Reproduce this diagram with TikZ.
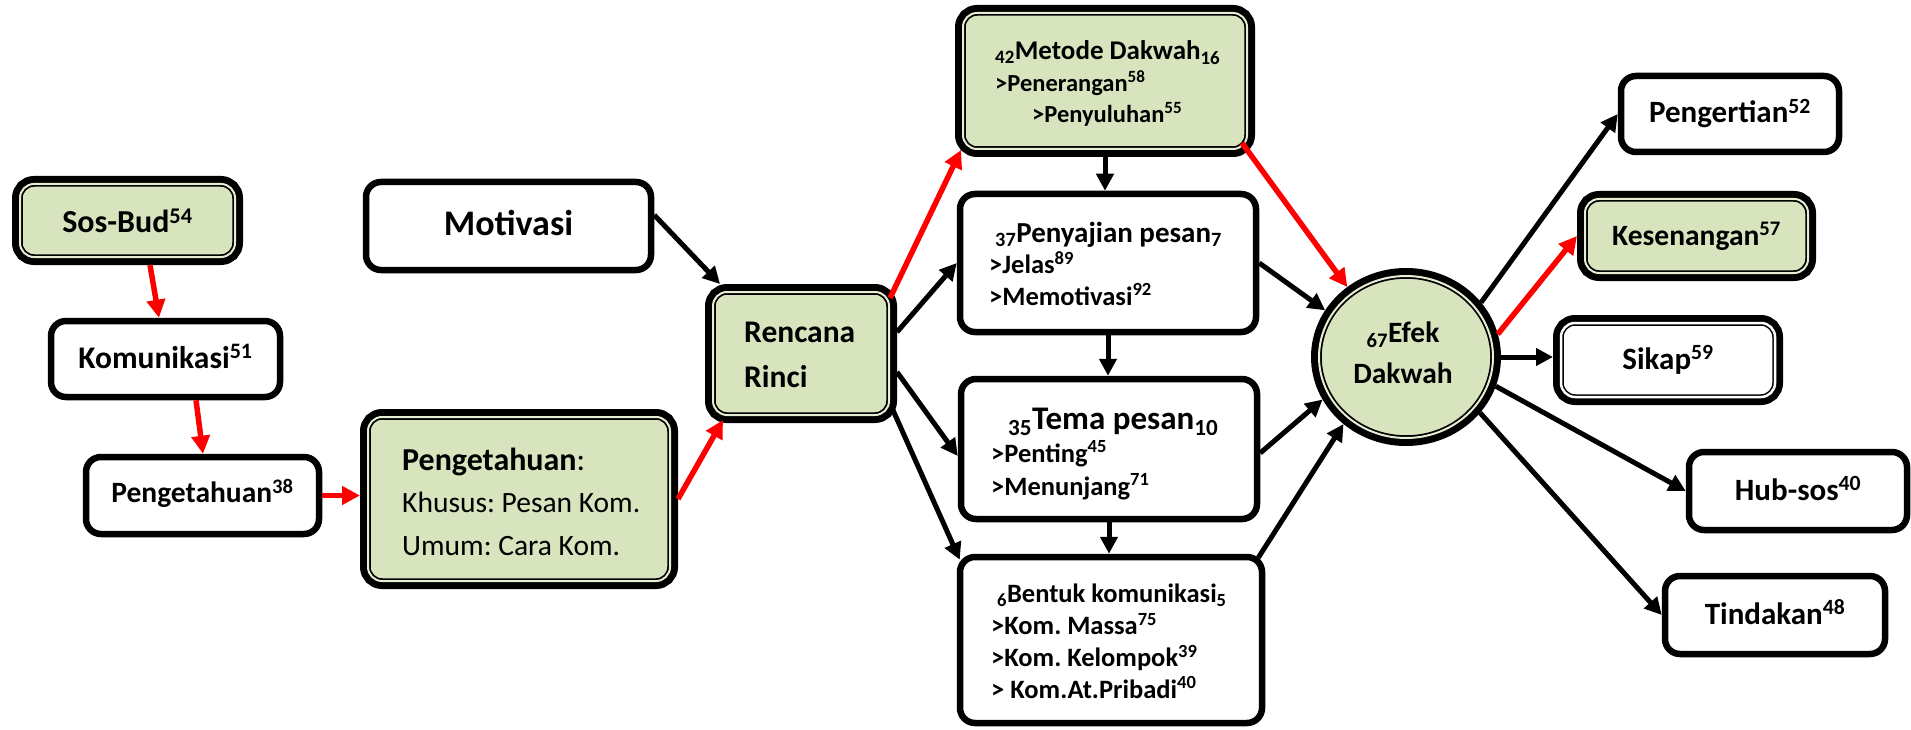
\documentclass[tikz,border=0pt]{standalone}
\usepackage{fontspec}
\setmainfont{Carlito}
\frenchspacing
\usetikzlibrary{arrows.meta,calc,shapes.geometric}

\definecolor{leaf}{HTML}{D7E4BD}
\definecolor{rim}{HTML}{E6EDD2}
\definecolor{arrowred}{HTML}{FF0000}

\newcommand\fsz[2]{\fontsize{#1}{#2}\selectfont}
\newcommand\supnum[1]{\textsuperscript{#1}}
\newcommand\subnum[1]{\textsubscript{#1}}

\tikzset{
  % single white box with a heavy rounded border
  plainbox/.style={draw=black, line width=6.5pt, fill=white, rounded corners=15pt,
    inner sep=0pt, outer sep=3.25pt, text height=22pt, text depth=4pt},
  % box with a heavy outer line, a pale rim and a thin inner line
  ringbox/.style={preaction={draw=black, line width=16pt}, fill=leaf,
    draw=black, line width=5.5pt,
    postaction={draw=rim, fill=none, line width=2pt},
    rounded corners=14pt, inner sep=0pt, outer sep=8pt,
    text height=22pt, text depth=4pt},
  whitering/.style={preaction={draw=black, line width=16pt}, fill=white,
    draw=black, line width=5.5pt,
    postaction={draw=white, fill=none, line width=2.5pt},
    rounded corners=14pt, inner sep=0pt, outer sep=8pt,
    text height=22pt, text depth=4pt},
  ringellipse/.style={ellipse, preaction={draw=black, line width=16pt}, fill=leaf,
    draw=black, line width=5.5pt,
    postaction={draw=rim, fill=none, line width=2pt},
    inner sep=0pt, outer sep=8pt},
  % multi-line text block, anchored at the baseline of its last line
  txt/.style={inner sep=0pt, anchor=base west, align=left},
  blk/.style={draw=black, line width=5pt, -{Triangle[length=17pt,width=17pt]}},
  redarr/.style={draw=arrowred, line width=5.5pt, -{Triangle[length=18pt,width=18pt]}},
}

\begin{document}
\begin{tikzpicture}[x=1pt, y=-1pt, font=\bfseries]
\fill[white] (0,0) rectangle (1911,730);
\useasboundingbox (0,0) rectangle (1911,730);

% left column
\node[ringbox, minimum width=215pt, minimum height=73pt, text height=25pt, text depth=1pt,
  font=\bfseries\fsz{32}{38}] (sos) at (127.5,220.5) {Sos-Bud\supnum{54}};
\node[plainbox, minimum width=229pt, minimum height=76pt,
  font=\bfseries\fsz{31.5}{38}] (kom) at (165.5,359) {Komunikasi\supnum{51}};
\node[plainbox, minimum width=233pt, minimum height=77pt, text depth=8pt,
  font=\bfseries\fsz{29.5}{36}] (p38) at (202.5,495.5) {Pengetahuan\supnum{38}};

% second column
\node[plainbox, minimum width=285pt, minimum height=88pt,
  font=\bfseries\fsz{36}{42}] (mot) at (508.5,226) {Motivasi};
\node[ringbox, minimum width=302pt, minimum height=164pt] (pk) at (519,499) {};
\node[txt, font=\mdseries\fsz{29.5}{42.5}] (pkt) at (402,555)
  {{\fsz{32}{42.5}\bfseries Pengetahuan}{\fsz{32}{42.5}:}\\
   Khusus: Pesan Kom.\\
   Umum: Cara Kom.};

\node[ringbox, minimum width=176pt, minimum height=123pt] (ren) at (801,353.5) {};
\node[txt, font=\bfseries\fsz{31.5}{45}] (rent) at (744,387) {Rencana\\Rinci};

% middle column
\node[ringbox, minimum width=284pt, minimum height=136pt] (met) at (1105,81) {};
\node[txt, font=\bfseries\fsz{24.5}{31.5}] (mett) at (995,123)
  {{\fsz{27}{31.5}\subnum{42}Metode Dakwah\subnum{16}}\\
   >Penerangan\supnum{58}\\
   \hspace*{37pt}>Penyuluhan\supnum{55}};

\node[plainbox, minimum width=296pt, minimum height=138pt] (pen) at (1108,263) {};
\node[txt, font=\bfseries\fsz{26.5}{31.5}] (pent) at (989,305)
  {{\fsz{29}{31.5}\hspace*{6pt}\subnum{37}Penyajian pesan\subnum{7}}\\
   >Jelas\supnum{89}\\
   >Memotivasi\supnum{92}};

\node[plainbox, minimum width=296pt, minimum height=140pt] (tema) at (1109,449) {};
\node[txt, font=\bfseries\fsz{26.5}{33}] (temat) at (991,495)
  {{\fsz{33}{33}\hspace*{17pt}\subnum{35}Tema pesan\subnum{10}}\\
   >Penting\supnum{45}\\
   >Menunjang\supnum{71}};

\node[plainbox, minimum width=302pt, minimum height=166pt] (bent) at (1111,640) {};
\node[txt, font=\bfseries\fsz{26.5}{31.7}] (bentt) at (991,698)
  {\hspace*{6pt}\subnum{6}Bentuk komunikasi\subnum{5}\\
   >Kom. Massa\supnum{75}\\
   >Kom. Kelompok\supnum{39}\\
   > Kom.At.Pribadi\supnum{40}};

% effect
\node[ringellipse, minimum width=174pt, minimum height=162pt] (efek) at (1406,357) {};
\node[inner sep=0pt, anchor=base, align=center, font=\bfseries\fsz{29.5}{41}] (efekt) at (1403,383)
  {\subnum{67}Efek\\Dakwah};

% right column
\node[plainbox, minimum width=218pt, minimum height=76pt,
  font=\bfseries\fsz{31}{38}] (peng) at (1730,114) {Pengertian\supnum{52}};
\node[ringbox, minimum width=223pt, minimum height=74pt,
  font=\bfseries\fsz{29.5}{36}] (kes) at (1696.5,236) {Kesenangan\supnum{57}};
\node[whitering, minimum width=214pt, minimum height=74pt,
  font=\bfseries\fsz{31}{38}] (sik) at (1668,360) {Sikap\supnum{59}};
\node[plainbox, minimum width=218pt, minimum height=78pt,
  font=\bfseries\fsz{31}{38}] (hub) at (1798,491) {Hub-sos\supnum{40}};
\node[plainbox, minimum width=220pt, minimum height=78pt,
  font=\bfseries\fsz{31}{38}] (tin) at (1775,615) {Tindakan\supnum{48}};

% red connectors
\draw[redarr] ([xshift=22.5pt]sos.south) -- ([xshift=-6.5pt]kom.north);
\draw[redarr] ([xshift=30.5pt]kom.south) -- ([xshift=0.5pt]p38.north);
\draw[redarr] (p38.east) -- (p38.east -| pk.west);
\draw[redarr] (pk.east) -- ([xshift=18pt,yshift=3pt]ren.south west);
\draw[redarr] ([xshift=-7pt,yshift=-14pt]ren.north east) -- ([xshift=6pt,yshift=7pt]met.south west);
\draw[redarr] ([xshift=-13pt,yshift=14pt]met.south east) -- (efek.130);
\draw[redarr] (efek.14) -- (kes.west);

% black connectors
\draw[blk] ([yshift=11pt]mot.east) -- ([xshift=15pt]ren.north west);
\draw[blk] ([yshift=21.5pt]ren.east) -- (pen.west);
\draw[blk] ([yshift=-18.5pt]ren.east) -- ([yshift=-7pt]tema.west);
\draw[blk] ([xshift=-5pt,yshift=15pt]ren.south east) -- ([xshift=3pt,yshift=-6pt]bent.north west);
\draw[blk] (met.south) -- (met.south |- pen.north);
\draw[blk] (pen.south) -- (pen.south |- tema.north);
\draw[blk] (tema.south) -- (tema.south |- bent.north);
\draw[blk] (pen.east) -- (efek.150);
\draw[blk] ([yshift=-4pt]tema.east) -- (efek.207);
\draw[blk] ([xshift=-7pt,yshift=-4pt]bent.north east) -- (efek.227);
\draw[blk] (efek.36) -- (peng.west);
\draw[blk] (efek.east) -- (efek.east -| sik.west);
\draw[blk] (efek.-18) -- (hub.west);
\draw[blk] (efek.-37) -- (tin.west);
\end{tikzpicture}
\end{document}
